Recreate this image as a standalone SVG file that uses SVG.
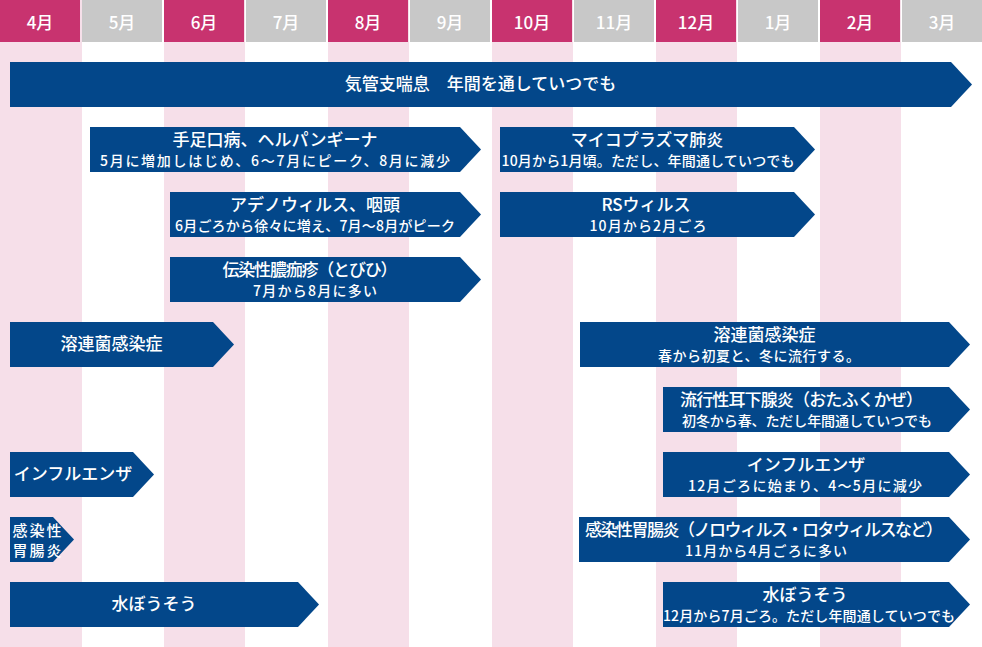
<svg xmlns="http://www.w3.org/2000/svg" width="982" height="647" viewBox="0 0 982 647">
<style>
text{font-family:"Noto Sans CJK JP","Noto Sans",sans-serif;fill:#fff;text-anchor:middle;font-weight:500}
.hp{fill:#c8336f}.hg{fill:#c8c8c8}.st{fill:#f6dfe9}
.ar{fill:#03478a}
.m{font-size:17px}.t{font-size:17px}.s{font-size:14px}.g{font-size:15px}
</style>
<rect width="982" height="647" fill="#fff"/>
<g id="stripes">
<rect class="st" x="0" y="0" width="82" height="647"/>
<rect class="st" x="164" y="0" width="81" height="647"/>
<rect class="st" x="328" y="0" width="81" height="647"/>
<rect class="st" x="492" y="0" width="81" height="647"/>
<rect class="st" x="656" y="0" width="81" height="647"/>
<rect class="st" x="820" y="0" width="81" height="647"/>
</g>
<g id="header">
<rect class="hp" x="0" y="0" width="80" height="42"/>
<rect class="hg" x="82" y="0" width="80" height="42"/>
<rect class="hp" x="164" y="0" width="80" height="42"/>
<rect class="hg" x="246" y="0" width="80" height="42"/>
<rect class="hp" x="328" y="0" width="80" height="42"/>
<rect class="hg" x="410" y="0" width="80" height="42"/>
<rect class="hp" x="492" y="0" width="80" height="42"/>
<rect class="hg" x="574" y="0" width="80" height="42"/>
<rect class="hp" x="656" y="0" width="80" height="42"/>
<rect class="hg" x="738" y="0" width="80" height="42"/>
<rect class="hp" x="820" y="0" width="80" height="42"/>
<rect class="hg" x="902" y="0" width="80" height="42"/>
<text class="m" x="40" y="28.5">4月</text>
<text class="m" x="122" y="28.5">5月</text>
<text class="m" x="204" y="28.5">6月</text>
<text class="m" x="286" y="28.5">7月</text>
<text class="m" x="368" y="28.5">8月</text>
<text class="m" x="450" y="28.5">9月</text>
<text class="m" x="532" y="28.5">10月</text>
<text class="m" x="614" y="28.5">11月</text>
<text class="m" x="696" y="28.5">12月</text>
<text class="m" x="778" y="28.5">1月</text>
<text class="m" x="860" y="28.5">2月</text>
<text class="m" x="942" y="28.5">3月</text>
</g>
<g id="n-asthma">
<polygon class="ar" points="10,62 951,62 972,84.5 951,107 10,107"/>
<text class="t" x="480.5" y="89.5">気管支喘息　年間を通していつでも</text>
</g>
<g id="n-hfmd">
<polygon class="ar" points="90,127 460,127 481,149.5 460,172 90,172"/>
<text class="t" x="275" y="146">手足口病、ヘルパンギーナ</text>
<text class="s" x="275" y="166" textLength="350">5月に増加しはじめ、6〜7月にピーク、8月に減少</text>
</g>
<g id="n-adeno">
<polygon class="ar" points="170,192 460,192 481,214.5 460,237 170,237"/>
<text class="t" x="315" y="211">アデノウィルス、咽頭</text>
<text class="s" x="315" y="231" textLength="280">6月ごろから徐々に増え、7月〜8月がピーク</text>
</g>
<g id="n-impetigo">
<polygon class="ar" points="170,257 460,257 481,279.5 460,302 170,302"/>
<text class="t" x="310" y="275.5" textLength="175">伝染性膿痂疹（とびひ）</text>
<text class="s" x="315" y="296" textLength="124">7月から8月に多い</text>
</g>
<g id="n-myco">
<polygon class="ar" points="500,127 794,127 815,149.5 794,172 500,172"/>
<text class="t" x="647" y="146">マイコプラズマ肺炎</text>
<text class="s" x="648" y="166" textLength="293">10月から1月頃。ただし、年間通していつでも</text>
</g>
<g id="n-rs">
<polygon class="ar" points="500,192 794,192 815,214.5 794,237 500,237"/>
<text class="t" x="646" y="211">RSウィルス</text>
<text class="s" x="648" y="231" textLength="117">10月から2月ごろ</text>
</g>
<g id="n-strep-l">
<polygon class="ar" points="10,322 213,322 234,344.5 213,367 10,367"/>
<text class="t" x="111.5" y="349.5">溶連菌感染症</text>
</g>
<g id="n-strep-r">
<polygon class="ar" points="580,322 949,322 970,344.5 949,367 580,367"/>
<text class="t" x="764.5" y="341">溶連菌感染症</text>
<text class="s" x="759" y="361" textLength="202">春から初夏と、冬に流行する。</text>
</g>
<g id="n-mumps">
<polygon class="ar" points="663,387 949,387 970,409.5 949,432 663,432"/>
<text class="t" x="801.5" y="406" textLength="243">流行性耳下腺炎（おたふくかぜ）</text>
<text class="s" x="807" y="426" textLength="250">初冬から春、ただし年間通していつでも</text>
</g>
<g id="n-flu-l">
<polygon class="ar" points="10,452 133,452 154,474.5 133,497 10,497"/>
<text class="t" x="73" y="479.5">インフルエンザ</text>
</g>
<g id="n-flu-r">
<polygon class="ar" points="663,452 949,452 970,474.5 949,497 663,497"/>
<text class="t" x="806" y="471">インフルエンザ</text>
<text class="s" x="805" y="491" textLength="234">12月ごろに始まり、4〜5月に減少</text>
</g>
<g id="n-gastro-l">
<polygon class="ar" points="10,517 53,517 74,539.5 53,562 10,562"/>
<text class="g" x="37" y="535.5" textLength="49">感染性</text>
<text class="g" x="37" y="556" textLength="49">胃腸炎</text>
</g>
<g id="n-gastro-r">
<polygon class="ar" points="579,517 949,517 970,539.5 949,562 579,562"/>
<text class="t" x="764" y="535.5" textLength="358">感染性胃腸炎（ノロウィルス・ロタウィルスなど）</text>
<text class="s" x="766" y="556" textLength="162">11月から4月ごろに多い</text>
</g>
<g id="n-varicella-l">
<polygon class="ar" points="10,582 298,582 319,604.5 298,627 10,627"/>
<text class="t" x="154" y="609.5">水ぼうそう</text>
</g>
<g id="n-varicella-r">
<polygon class="ar" points="663,582 949,582 970,604.5 949,627 663,627"/>
<text class="t" x="805" y="601">水ぼうそう</text>
<text class="s" x="809" y="621" textLength="292">12月から7月ごろ。ただし年間通していつでも</text>
</g>
<g id="connectors"></g>
</svg>
